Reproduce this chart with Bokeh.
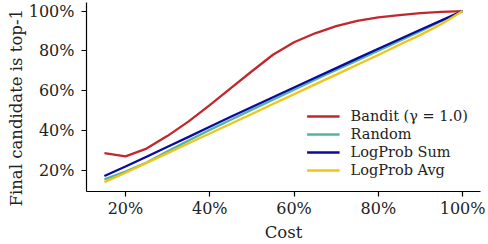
from bokeh.plotting import figure
from bokeh.models import Range1d, FixedTicker, NumeralTickFormatter, Legend, LegendItem, Title
from bokeh.embed import file_html
from bokeh.resources import INLINE

cost = [0.15, 0.20, 0.25, 0.30, 0.35, 0.40, 0.45, 0.50, 0.55, 0.60,
        0.65, 0.70, 0.75, 0.80, 0.85, 0.90, 0.95, 1.00]
bandit = [0.285, 0.269, 0.308, 0.372, 0.445, 0.527, 0.612, 0.697, 0.780, 0.843,
          0.888, 0.924, 0.950, 0.968, 0.980, 0.990, 0.996, 1.000]
random_ = [0.153, 0.192, 0.238, 0.294, 0.349, 0.402, 0.453, 0.504, 0.554, 0.604,
           0.654, 0.703, 0.752, 0.801, 0.850, 0.899, 0.950, 1.000]
logprob_sum = [0.170, 0.218, 0.267, 0.317, 0.367, 0.418, 0.468, 0.517, 0.566, 0.615,
               0.664, 0.713, 0.762, 0.810, 0.858, 0.906, 0.953, 1.000]
logprob_avg = [0.139, 0.186, 0.236, 0.285, 0.335, 0.384, 0.433, 0.482, 0.532, 0.581,
               0.631, 0.680, 0.730, 0.779, 0.830, 0.880, 0.935, 1.000]

series_names = ["Bandit (γ = 1.0)", "Random", "LogProb Sum", "LogProb Avg"]
series_values = [bandit, random_, logprob_sum, logprob_avg]
series_colors = ["#c1272d", "#52b5a2", "#0a0aa0", "#f0c419"]

x_ticks = [0.2, 0.4, 0.6, 0.8, 1.0]
y_ticks = [0.2, 0.4, 0.6, 0.8, 1.0]

FONT = "DejaVu Serif"

p = figure(width=488, height=244, output_backend="svg", toolbar_location=None,
           x_range=Range1d(0.1075, 1.0425), y_range=Range1d(0.092, 1.043),
           min_border_left=86, min_border_right=8, min_border_top=2, min_border_bottom=50)
p.outline_line_color = None
p.xgrid.visible = False
p.ygrid.visible = False
p.background_fill_color = "white"

items = []
for name, vals, col in zip(series_names, series_values, series_colors):
    r = p.line(cost, vals, line_color=col, line_width=2.3)
    items.append(LegendItem(label=name, renderers=[r]))

for ax, ticks in ((p.xaxis[0], x_ticks), (p.yaxis[0], y_ticks)):
    ax.ticker = FixedTicker(ticks=ticks)
    ax.formatter = NumeralTickFormatter(format="0%")
    ax.major_tick_out = 5
    ax.major_tick_in = 0
    ax.minor_tick_line_color = None
    ax.axis_line_color = "black"
    ax.axis_line_width = 1.2
    ax.major_tick_line_color = "black"
    ax.major_tick_line_width = 1.2
    ax.major_label_text_font = FONT
    ax.major_label_text_font_size = "16px"
    ax.major_label_text_color = "#222222"
    ax.axis_label_text_font = FONT
    ax.axis_label_text_font_size = "16.5px"
    ax.axis_label_text_font_style = "normal"
    ax.axis_label_text_color = "#222222"

p.xaxis.axis_label = "Cost"
p.xaxis.axis_label_standoff = 2
p.xaxis.major_label_standoff = 2
p.yaxis.major_label_standoff = 7

ytitle = Title(text="Final candidate is top-1", align="left", offset=-15,
               text_font=FONT, text_font_size="16.5px", text_font_style="normal",
               text_color="#222222", standoff=0)
p.add_layout(ytitle, "left")

legend = Legend(items=items, location="bottom_right")
legend.border_line_color = None
legend.background_fill_alpha = 0
legend.label_text_font = FONT
legend.label_text_font_size = "14.5px"
legend.label_text_color = "#222222"
legend.glyph_width = 33
legend.glyph_height = 18
legend.label_height = 18
legend.spacing = 0
legend.padding = 3
legend.margin = 12
legend.label_standoff = 11
p.add_layout(legend)

open("out.html", "w").write(file_html(p, INLINE))
